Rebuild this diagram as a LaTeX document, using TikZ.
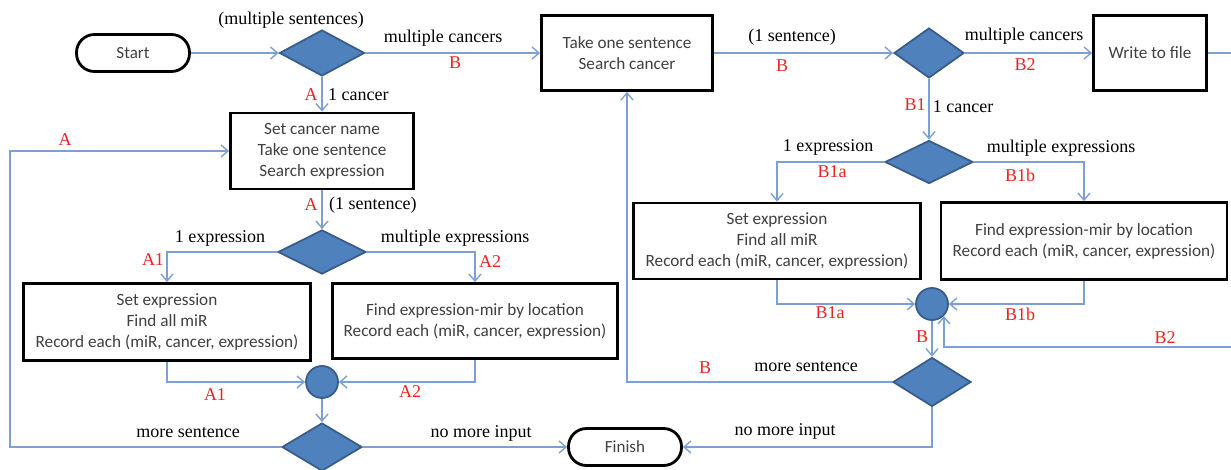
\documentclass[tikz,border=0pt]{standalone}
\usepackage{fontspec}
\setmainfont{Liberation Serif}
\newfontfamily\boxfont{Carlito}
\usetikzlibrary{shapes.geometric,arrows.meta}
\definecolor{lineblue}{RGB}{125,160,212}
\definecolor{dfill}{RGB}{79,129,189}
\definecolor{dborder}{RGB}{56,93,138}
\definecolor{lblred}{RGB}{235,35,35}

\begin{document}
\begin{tikzpicture}[x=1pt,y=-1pt,
	procbox/.style={draw=black,line width=2.8pt,fill=white,align=center,inner sep=0pt,
		font=\boxfont\fontsize{17.2}{21}\selectfont,text=black!75},
	termbox/.style={draw=black,line width=2.8pt,rounded corners=18pt,minimum width=113pt,
		minimum height=37pt,font=\boxfont\fontsize{17}{21}\selectfont,text=black!75},
	decide/.style={diamond,draw=dborder,line width=1.8pt,fill=dfill,inner sep=0pt},
	joint/.style={circle,draw=dborder,line width=1.8pt,fill=dfill,minimum size=32pt,inner sep=0pt},
	flow/.style={draw=lineblue,line width=1.4pt,-{Straight Barb[length=7pt,width=12pt]}},
	wire/.style={draw=lineblue,line width=1.4pt},
	lbl/.style={font=\fontsize{18}{20}\selectfont,inner sep=1pt},
	tag/.style={font=\fontsize{18}{20}\selectfont,text=lblred,inner sep=1pt}]
	\useasboundingbox (0,0) rectangle (1231,470);
	
	% Start / Finish
	\node[termbox] (start) at (133,53) {Start};
	\node[termbox] (finish) at (625,447) {Finish};
	
	% Decisions
	\node[decide,minimum width=85pt,minimum height=46pt] (d1) at (322,53) {};
	\node[decide,minimum width=88pt,minimum height=44pt] (d2) at (322,252) {};
	\node[decide,minimum width=80pt,minimum height=48pt] (d3) at (322,447) {};
	\node[decide,minimum width=70pt,minimum height=50pt] (d4) at (929,53) {};
	\node[decide,minimum width=88pt,minimum height=43pt] (d5) at (929,162) {};
	\node[decide,minimum width=78pt,minimum height=49pt] (d6) at (932,382) {};
	
	% Joins
	\node[joint] (ca) at (322,382) {};
	\node[joint] (cb) at (932,304) {};
	
	% Process boxes
	\node[procbox,minimum width=183pt,minimum height=76pt] (scn) at (322,151)
		{Set cancer name\\Take one sentence\\Search expression};
	\node[procbox,minimum width=287pt,minimum height=77pt] (a1box) at (167,322)
		{Set expression\\Find all miR\\Record each (miR, cancer, expression)};
	\node[procbox,minimum width=285pt,minimum height=75pt] (a2box) at (475,321)
		{Find expression-mir by location\\Record each (miR, cancer, expression)};
	\node[procbox,minimum width=171pt,minimum height=75pt] (tsc) at (627,53)
		{Take one sentence\\Search cancer};
	\node[procbox,minimum width=113pt,minimum height=75pt] (wtf) at (1150,53)
		{Write to file};
	\node[procbox,minimum width=287pt,minimum height=76pt] (b1a) at (777,241)
		{Set expression\\Find all miR\\Record each (miR, cancer, expression)};
	\node[procbox,minimum width=286pt,minimum height=77pt] (b1b) at (1084,241)
		{Find expression-mir by location\\Record each (miR, cancer, expression)};
	
	% Loose ends
	\coordinate (loopA) at (10,447);
	\coordinate (edgeT) at (1231,53);
	\coordinate (edgeB) at (1231,347);
	
	% Branch A
	\draw[flow] (start) -- (d1);
	\draw[flow] (d1) -- (tsc);
	\draw[flow] (d1) -- (scn);
	\draw[flow] (scn) -- (d2);
	\draw[flow] (d2.west) -| (a1box.north);
	\draw[flow] (d2.east) -| (a2box.north);
	\draw[flow] (a1box.south) |- (ca.west);
	\draw[flow] (a2box.south) |- (ca.east);
	\draw[flow] (ca) -- (d3);
	\draw[flow] (d3.west) -- (loopA) |- (scn.west);
	\draw[flow] (d3) -- (finish);
	
	% Branch B
	\draw[flow] (tsc) -- (d4);
	\draw[flow] (d4) -- (wtf);
	\draw[wire] (wtf.east) -- (edgeT);
	\draw[flow] (d4) -- (d5);
	\draw[flow] (d5.west) -| (b1a.north);
	\draw[flow] (d5.east) -| (b1b.north);
	\draw[flow] (b1a.south) |- (cb.west);
	\draw[flow] (b1b.south) |- (cb.east);
	\draw[flow] (edgeB) -| (cb.south east);
	\draw[flow] (cb) -- (d6);
	\draw[flow] (d6.west) -| (tsc.south);
	\draw[flow] (d6.south) |- (finish.east);
	
	% Black labels
	\node[lbl] (l1) at (291,20) {(multiple sentences)};
	\node[lbl] (l2) at (443,38) {multiple cancers};
	\node[lbl,anchor=west] (l3) at (327,95) {1 cancer};
	\node[lbl,anchor=west] (l4) at (328,205) {(1 sentence)};
	\node[lbl] (l5) at (220,238) {1 expression};
	\node[lbl] (l6) at (455,238) {multiple expressions};
	\node[lbl] (l7) at (188,433) {more sentence};
	\node[lbl] (l8) at (481,433) {no more input};
	\node[lbl] (l9) at (785,431) {no more input};
	\node[lbl] (l10) at (806,367) {more sentence};
	\node[lbl] (l11) at (792,37) {(1 sentence)};
	\node[lbl] (l12) at (1024,36) {multiple cancers};
	\node[lbl] (l13) at (963,107) {1 cancer};
	\node[lbl] (l14) at (828,147) {1 expression};
	\node[lbl] (l15) at (1061,148) {multiple expressions};
	
	% Red tags
	\node[tag] (r1) at (455,63) {B};
	\node[tag] (r2) at (311,95) {A};
	\node[tag] (r3) at (65,140) {A};
	\node[tag] (r4) at (311,205) {A};
	\node[tag] (r5) at (153,260) {A1};
	\node[tag] (r6) at (490,262) {A2};
	\node[tag] (r7) at (215,395) {A1};
	\node[tag] (r8) at (410,392) {A2};
	\node[tag] (r9) at (705,368) {B};
	\node[tag] (r10) at (782,66) {B};
	\node[tag] (r11) at (1025,65) {B2};
	\node[tag] (r12) at (915,105) {B1};
	\node[tag] (r13) at (832,172) {B1a};
	\node[tag] (r14) at (1020,175) {B1b};
	\node[tag] (r15) at (830,313) {B1a};
	\node[tag] (r16) at (1020,314) {B1b};
	\node[tag] (r17) at (1165,338) {B2};
	\node[tag] (r18) at (922,337) {B};
\end{tikzpicture}
\end{document}
